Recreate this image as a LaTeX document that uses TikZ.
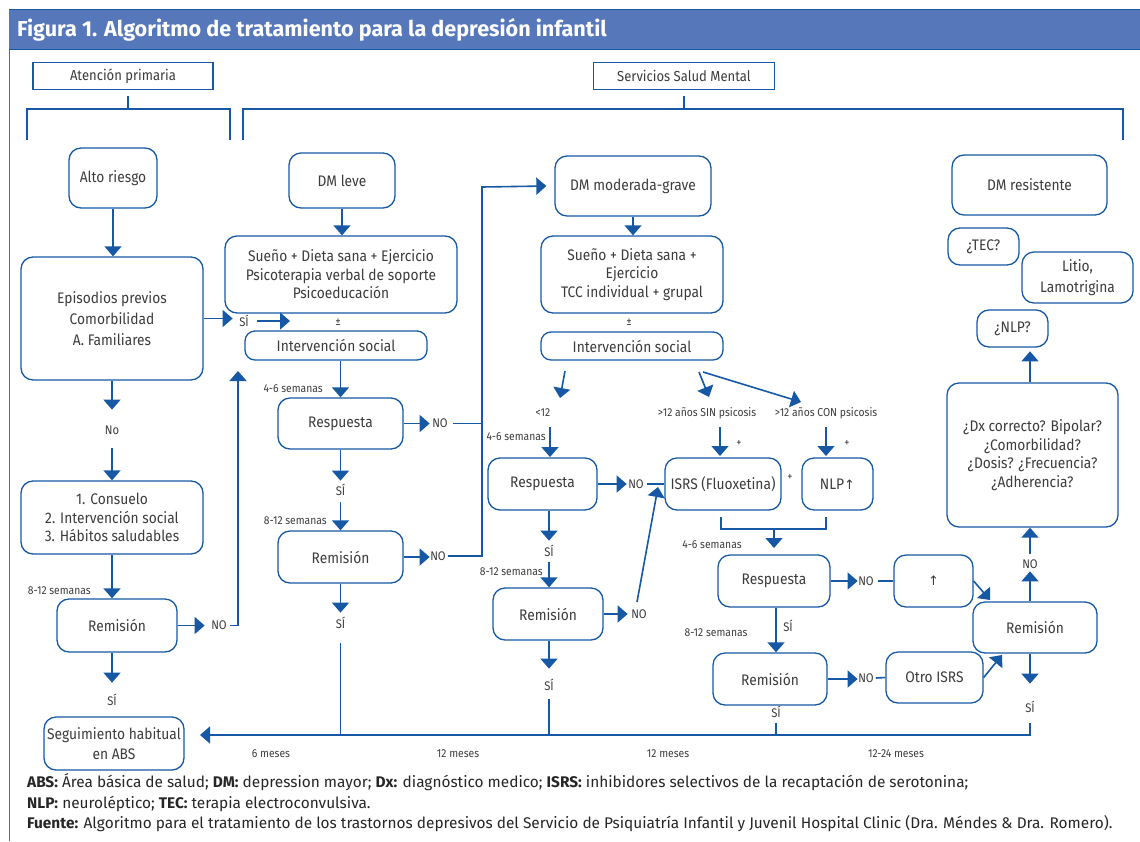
\documentclass[tikz,border=0pt]{standalone}
\usepackage{fontspec}
\setmainfont{Fira Sans}[FakeStretch=0.9]
\newfontfamily\plainfira{Fira Sans}
\newfontfamily\dejavu{DejaVu Sans}
\usetikzlibrary{arrows.meta}
\definecolor{lb}{RGB}{22,88,164}
\definecolor{bar}{RGB}{86,120,187}
\definecolor{tx}{RGB}{60,60,60}
\tikzset{
  box/.style={draw=lb, line width=1.3pt, rounded corners=12pt, align=center, text=tx,
    font=\fontsize{15.3}{18.5}\selectfont, inner sep=1pt},
  hdr/.style={draw=lb, line width=1.1pt, align=center, text=tx,
    font=\fontsize{14.5}{17}\selectfont, inner sep=1pt},
  ln/.style={draw=lb, line width=1.6pt},
  arr/.style={draw=lb, line width=1.6pt, -{Triangle[length=10pt,width=17pt]}},
  lbl/.style={text=tx, font=\fontsize{11.5}{13}\selectfont, inner sep=0pt},
  yn/.style={text=tx, font=\fontsize{12.5}{14}\selectfont, inner sep=0pt},
  foot/.style={text=black!85, font=\plainfira\fontsize{15.4}{19}\selectfont, inner sep=0pt},
}
\begin{document}
\begin{tikzpicture}[x=1pt,y=-1pt]
\useasboundingbox (0,0) rectangle (1140,841);
% frame and title
\draw[lb!85, line width=1pt] (9,841) -- (9,9);
\fill[bar] (9,9) rectangle (1140,49);
\draw[lb, line width=0.8pt] (9,9) -- (1140,9) (9,49) -- (1140,49);
\node[anchor=west, text=white, font=\plainfira\fontsize{21.6}{24}\selectfont\bfseries, inner sep=0pt] (title) at (17,30) {Figura 1. Algoritmo de tratamiento para la depresión infantil};

% headers and brackets
\node[hdr, minimum width=180pt, minimum height=27pt] (atp) at (123,76) {Atención primaria};
\node[hdr, minimum width=181pt, minimum height=27pt] (ssm) at (684,76) {Servicios Salud Mental};
\coordinate (brL) at (128,109);
\coordinate (brR) at (684,109);
\draw[ln, line width=1.3pt] ([yshift=-6pt]atp.south -| brL) -- (brL);
\draw[ln, line width=1.3pt] ([yshift=-6pt]ssm.south) -- (brR);
\draw[ln, line width=1.3pt] (27,140) -- (27,109) -- (230,109) -- (230,140);
\draw[ln, line width=1.3pt] (243,140) -- (243,109) -- (1123,109) -- (1123,140);

% boxes
\node[box, minimum width=88pt, minimum height=60pt] (alto) at (113,178) {Alto riesgo};
\node[box, minimum width=182pt, minimum height=123pt, font=\fontsize{15.3}{21}\selectfont] (epi) at (112,318.5) {Episodios previos\\Comorbilidad\\A. Familiares};
\node[box, minimum width=182pt, minimum height=73pt] (cons) at (112,517.5) {1. Consuelo\\2. Intervención social\\3. Hábitos saludables};
\node[box, minimum width=120pt, minimum height=53pt] (rem1) at (117,625.5) {Remisión};
\node[box, minimum width=140pt, minimum height=53pt, font=\fontsize{15.3}{20}\selectfont] (seg) at (114,743.5) {Seguimiento habitual\\en ABS};

\node[box, minimum width=106pt, minimum height=55pt] (dmleve) at (342,180.5) {DM leve};
\node[box, minimum width=232pt, minimum height=77pt] (sueno1) at (341,274.5) {Sueño + Dieta sana + Ejercicio\\Psicoterapia verbal de soporte\\Psicoeducación};
\node[box, rounded corners=10pt, minimum width=182pt, minimum height=29pt] (int1) at (336,345.5) {Intervención social};
\node[box, minimum width=125pt, minimum height=51pt] (resp1) at (340.5,423.5) {Respuesta};
\node[box, minimum width=125pt, minimum height=52pt] (rem2) at (340.5,557) {Remisión};

\node[box, minimum width=156pt, minimum height=60pt] (dmmod) at (633,186) {DM moderada-grave};
\node[box, minimum width=182pt, minimum height=77pt] (sueno2) at (632,274.5) {Sueño + Dieta sana +\\Ejercicio\\TCC individual + grupal};
\node[box, rounded corners=10pt, minimum width=182pt, minimum height=28pt] (int2) at (632,346) {Intervención social};
\node[box, minimum width=109pt, minimum height=52pt] (resp2) at (542.5,484) {Respuesta};
\node[box, minimum width=116pt, minimum height=52pt] (isrs) at (723,484) {ISRS (Fluoxetina)};
\node[box, minimum width=71pt, minimum height=52pt] (nlp) at (837.5,484) {NLP{\dejavu\fontsize{13}{14}\selectfont ↑}};
\node[box, minimum width=110pt, minimum height=52pt] (rem3) at (548,614) {Remisión};
\node[box, minimum width=112pt, minimum height=52pt] (resp3) at (774,581) {Respuesta};
\node[box, minimum width=79pt, minimum height=52pt] (up) at (933.5,581) {{\dejavu\fontsize{13}{14}\selectfont ↑}};
\node[box, minimum width=114pt, minimum height=52pt] (rem4) at (770,679) {Remisión};
\node[box, minimum width=97pt, minimum height=51pt] (otro) at (934.5,677.5) {Otro ISRS};
\node[box, minimum width=124pt, minimum height=51pt] (rem5) at (1035,627.5) {Remisión};
\node[box, minimum width=171pt, minimum height=144pt] (dx) at (1032.5,455) {¿Dx correcto? Bipolar?\\¿Comorbilidad?\\¿Dosis? ¿Frecuencia?\\¿Adherencia?};
\node[box, minimum width=71pt, minimum height=37pt] (nlpq) at (1012.5,328.5) {¿NLP?};
\node[box, minimum width=71pt, minimum height=37pt] (tec) at (983.5,246.5) {¿TEC?};
\node[box, minimum width=111pt, minimum height=51pt, font=\fontsize{15.3}{21}\selectfont] (litio) at (1077.5,277.5) {Litio,\\Lamotrigina};
\node[box, minimum width=155pt, minimum height=60pt] (dmres) at (1029.5,185) {DM resistente};

% helper coordinates
\coordinate (bL) at (200,735);
\coordinate (colM) at (549,0);
\coordinate (colR) at (776,0);
\coordinate (colX) at (1030,0);
\coordinate (upL) at (238,371);
\coordinate (tipSI) at (290,321);

% left column
\draw[arr] (alto.south) -- (alto.south |- epi.north);
\draw[arr] (epi.south) -- ++(0,29);
\node[yn] (noA) at (112,430) {No};
\draw[arr] ([yshift=32pt]cons.north) -- (cons.north);
\draw[arr] (cons.south) -- (cons.south |- rem1.north);
\node[lbl, anchor=east] at (91,591) {8-12 semanas};
\draw[arr] (rem1.east) -- ++(27,0);
\node[yn] (noB) at (219,625.5) {NO};
\draw[arr] ([xshift=3pt]noB.east) -| (upL);
\draw[arr] (rem1.south -| cons.south) -- ++(0,30);
\node[yn] (siA0) at (112,700) {SÍ};
\node[lbl] at (271,754) {6 meses};

% DM leve column
\draw[arr] (dmleve.south) -- (dmleve.south |- sueno1.north);
\node[lbl, font=\fontsize{12}{13}\selectfont] at (338,322) {±};
\draw[arr] (epi.east) -- ++(29,0);
\node[yn] (siA) at (244,321) {SÍ};
\draw[arr] ([xshift=8pt]siA.east) -- (tipSI);
\draw[arr] (resp1.north |- int1.south) -- (resp1.north);
\node[lbl, anchor=east] at (323,389) {4-6 semanas};
\draw[arr] (resp1.east) -- ++(26,0);
\node[yn] (noC) at (440,423.5) {NO};
\draw[ln] ([xshift=5pt]noC.east) -- (482,423.5);
\draw[arr] (resp1.south) -- ++(0,31);
\node[yn] (siB) at (340.5,490) {SÍ};
\draw[arr] ([yshift=-6pt]siB.south) -- (rem2.north);
\node[lbl, anchor=east] at (327,521) {8-12 semanas};
\draw[arr] (rem2.east) -- ++(26,0);
\node[yn] (noD) at (438,556) {NO};
\draw[arr] ([xshift=2pt]noD.east) -- (482,556) -- (482,187) -- ([xshift=-8pt]dmmod.west);
\draw[arr] (rem2.south) -- ++(0,29);
\node[yn] (siC) at (340.5,623) {SÍ};
\draw[ln] ([yshift=-14pt]siC.south) -- (siC |- bL);
\node[lbl] at (458,754) {12 meses};

% DM moderada column
\draw[arr] (dmmod.south) -- (dmmod.south |- sueno2.north);
\node[lbl, font=\fontsize{12}{13}\selectfont] at (629,322) {±};
\draw[arr] (565,371) -- (560,398);
\draw[arr] (699,372) -- (709,397);
\draw[arr] (703,372) -- (801,402);
\node[lbl] (lt12) at (543,413) {<12};
\node[lbl] (sin) at (707,413) {>12 años SIN psicosis};
\node[lbl] (con) at (826,413) {>12 años CON psicosis};
\draw[arr] (550,427) -- (550,457);
\draw[arr] (720,427) -- (720,456);
\draw[arr] (826,427) -- (826,456);
\node[lbl, anchor=east] at (546,437) {4-6 semanas};
\node[lbl] at (739,444) {+};
\node[lbl] at (847,444) {+};
\node[lbl] at (790,478) {+};
\draw[arr] (resp2.east) -- ++(29,0);
\node[yn] (noE) at (636,484) {NO};
\draw[ln] ([xshift=3pt]noE.east) -- (isrs.west);
\draw[arr] (resp2.south -| colM) -- ++(0,30);
\node[yn] (siD) at (549,551) {SÍ};
\draw[arr] ([yshift=-5pt]siD.south) -- (rem3.north -| colM);
\node[lbl, anchor=east] at (543,572) {8-12 semanas};
\draw[arr] (rem3.east) -- ++(24,0);
\node[yn] (noF) at (639,614) {NO};
\draw[arr] (637,602) -- (658,487);
\draw[arr] (rem3.south -| colM) -- ++(0,28);
\node[yn] (siE) at (549,685) {SÍ};
\draw[ln] ([yshift=-8pt]siE.south) -- (siE |- bL);
\node[lbl] at (668,754) {12 meses};

% ISRS branch
\draw[ln] (721,517) -- (721,529) -- (826,529) -- (826,517);
\draw[arr] (774,529) -- (774,548);
\node[lbl] at (712,545) {4-6 semanas};
\draw[arr] (resp3.east) -- ++(27,0);
\node[yn] (noG) at (866,581) {NO};
\draw[ln] ([xshift=4pt]noG.east) -- (up.west);
\draw[arr] (resp3.south -| colR) -- (rem4.north -| colR);
\node[yn] at (788,626) {SÍ};
\node[lbl] at (716,633) {8-12 semanas};
\draw[arr] (rem4.east) -- ++(30,0);
\node[yn] (noH) at (866,678) {NO};
\draw[ln] ([xshift=2pt]noH.east) -- (otro.west);
\node[yn] (siF) at (776,712) {SÍ};
\draw[ln] ([yshift=-5pt]siF.south) -- (siF |- bL);
\draw[arr] (up.east) -- (990,600);
\draw[arr] (otro.east) -- (1002,655);
\node[lbl] at (896,754) {12-24 meses};

% resistant column
\draw[arr] (rem5.north -| colX) -- ++(0,-30);
\node[yn] (noI) at (1030,564) {NO};
\draw[arr] ([yshift=5pt]noI.north) -- (dx.south -| colX);
\draw[arr] (rem5.south -| colX) -- ++(0,30);
\node[yn] (siG) at (1030,707) {SÍ};
\draw[arr] ([yshift=-10pt]siG.south) |- (bL);
\draw[arr] (dx.north -| colX) -- ++(0,-31);

% footer
\node[foot, anchor=base west] at (27,787) {\textbf{ABS:} Área básica de salud; \textbf{DM:} depression mayor; \textbf{Dx:} diagnóstico medico; \textbf{ISRS:} inhibidores selectivos de la recaptación de serotonina;};
\node[foot, anchor=base west] at (27,808) {\textbf{NLP:} neuroléptico; \textbf{TEC:} terapia electroconvulsiva.};
\node[foot, anchor=base west] at (27,828) {\textbf{Fuente:} Algoritmo para el tratamiento de los trastornos depresivos del Servicio de Psiquiatría Infantil y Juvenil Hospital Clinic (Dra. Méndes \& Dra. Romero).};
\end{tikzpicture}
\end{document}
